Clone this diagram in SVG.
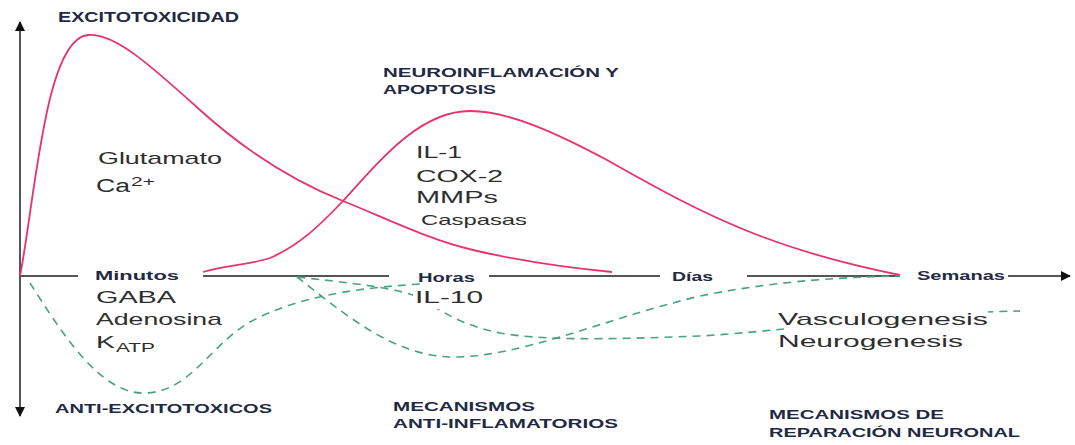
<svg xmlns="http://www.w3.org/2000/svg" width="1075" height="445" viewBox="0 0 1075 445">
<style>
.axis{stroke:#555;stroke-width:2;fill:none}
.red{stroke:#e8336b;stroke-width:1.8;fill:none}
.green{stroke:#4aa37f;stroke-width:1.6;fill:none;stroke-dasharray:8 6}
.hd{font-family:"Liberation Sans",Arial,sans-serif;font-weight:bold;fill:#1f2a44}
.lb{font-family:"Liberation Sans",Arial,sans-serif;fill:#2e2e2e}
</style>
<defs>
<marker id="arr" viewBox="0 0 10 10" refX="9" refY="5" markerWidth="10" markerHeight="10" markerUnits="userSpaceOnUse" orient="auto">
<path d="M0,0 L10,5 L0,10 Z" fill="#111"/>
</marker>
</defs>
<rect width="1075" height="445" fill="#fff"/>
<g id="connectors">
<line class="axis" x1="20" y1="276" x2="20" y2="22" marker-end="url(#arr)"/>
<line class="axis" x1="20" y1="276" x2="20" y2="416" marker-end="url(#arr)"/>
<line class="axis" x1="20" y1="276" x2="78" y2="276"/>
<line class="axis" x1="203" y1="276" x2="389" y2="276"/>
<line class="axis" x1="489" y1="276" x2="660" y2="276"/>
<line class="axis" x1="747" y1="276" x2="900" y2="276"/>
<line class="axis" x1="1008" y1="276" x2="1070" y2="276" marker-end="url(#arr)"/>
<path id="curve-excito" class="red" d="M20,276 C35,200 45,38 88,35 C115,33 150,65 200,110 C240,146 290,180 343,201 C390,220 430,240 473,250 C520,261 570,268 612,272"/>
<path id="curve-inflam" class="red" d="M203,272 C225,265 250,265 270,258 C300,245 320,225 343,201 C380,160 420,111 470,111 C510,111 560,135 607,160 C660,190 700,212 750,232 C800,252 850,265 900,275"/>
<path id="curve-antiexcito" class="green" d="M30,283 C60,330 100,395 145,393 C190,392 210,345 250,322 C300,295 360,288 420,284"/>
<path id="curve-antiinflam" class="green" d="M297,277 C340,310 390,355 450,357 C520,358 600,320 700,296 C780,280 850,277 900,276"/>
<path id="curve-repair" class="green" d="M297,277 C350,283 400,288 420,298 C440,310 460,325 500,333 C540,340 600,340 700,336 C800,330 900,313 1020,311"/>
</g>
<g id="title-excito"><text class="hd" x="58" y="22" font-size="14" textLength="181" lengthAdjust="spacingAndGlyphs">EXCITOTOXICIDAD</text></g>
<g id="title-inflam">
<text class="hd" x="383" y="77" font-size="13" textLength="236" lengthAdjust="spacingAndGlyphs">NEUROINFLAMACIÓN Y</text>
<text class="hd" x="383" y="94" font-size="13" textLength="113" lengthAdjust="spacingAndGlyphs">APOPTOSIS</text>
</g>
<g id="excito-agents">
<text class="lb" x="98" y="164" font-size="17" textLength="124" lengthAdjust="spacingAndGlyphs">Glutamato</text>
<text class="lb" x="96" y="192" font-size="18" textLength="34" lengthAdjust="spacingAndGlyphs">Ca</text>
<text class="lb" x="131" y="186" font-size="12" textLength="24" lengthAdjust="spacingAndGlyphs">2+</text>
</g>
<g id="inflam-agents">
<text class="lb" x="416" y="158" font-size="17" textLength="46" lengthAdjust="spacingAndGlyphs">IL-1</text>
<text class="lb" x="416" y="182" font-size="17" textLength="87" lengthAdjust="spacingAndGlyphs">COX-2</text>
<text class="lb" x="416" y="203" font-size="17" textLength="82" lengthAdjust="spacingAndGlyphs">MMPs</text>
<text class="lb" x="421" y="225" font-size="15" textLength="106" lengthAdjust="spacingAndGlyphs">Caspasas</text>
</g>
<g id="time-minutos"><text class="hd" x="95" y="280" font-size="13" textLength="84" lengthAdjust="spacingAndGlyphs">Minutos</text></g>
<g id="time-horas"><text class="hd" x="418" y="282" font-size="13" textLength="57" lengthAdjust="spacingAndGlyphs">Horas</text></g>
<g id="time-dias"><text class="hd" x="672" y="281" font-size="13" textLength="41" lengthAdjust="spacingAndGlyphs">Días</text></g>
<g id="time-semanas"><text class="hd" x="917" y="280" font-size="13" textLength="88" lengthAdjust="spacingAndGlyphs">Semanas</text></g>
<g id="antiexcito-agents">
<text class="lb" x="96" y="303" font-size="17" textLength="80" lengthAdjust="spacingAndGlyphs">GABA</text>
<text class="lb" x="96" y="325" font-size="17" textLength="126" lengthAdjust="spacingAndGlyphs">Adenosina</text>
<text class="lb" x="96" y="348" font-size="17" textLength="19" lengthAdjust="spacingAndGlyphs">K</text>
<text class="lb" x="116" y="352" font-size="13" textLength="39" lengthAdjust="spacingAndGlyphs">ATP</text>
</g>
<g id="antiinflam-agents">
<rect x="413" y="286" width="72" height="23" fill="#fff"/>
<text class="lb" x="415" y="303" font-size="17" textLength="68" lengthAdjust="spacingAndGlyphs">IL-10</text>
</g>
<g id="repair-agents">
<rect x="784" y="306" width="204" height="46" fill="#fff"/>
<text class="lb" x="778" y="325" font-size="17" textLength="210" lengthAdjust="spacingAndGlyphs">Vasculogenesis</text>
<text class="lb" x="778" y="347" font-size="17" textLength="185" lengthAdjust="spacingAndGlyphs">Neurogenesis</text>
</g>
<g id="title-antiexcito"><text class="hd" x="55" y="413" font-size="13" textLength="217" lengthAdjust="spacingAndGlyphs">ANTI-EXCITOTOXICOS</text></g>
<g id="title-antiinflam">
<text class="hd" x="393" y="411" font-size="13" textLength="142" lengthAdjust="spacingAndGlyphs">MECANISMOS</text>
<text class="hd" x="393" y="428" font-size="13" textLength="225" lengthAdjust="spacingAndGlyphs">ANTI-INFLAMATORIOS</text>
</g>
<g id="title-repair">
<text class="hd" x="769" y="419" font-size="13" textLength="175" lengthAdjust="spacingAndGlyphs">MECANISMOS DE</text>
<text class="hd" x="769" y="437" font-size="13" textLength="251" lengthAdjust="spacingAndGlyphs">REPARACIÓN NEURONAL</text>
</g>
</svg>
